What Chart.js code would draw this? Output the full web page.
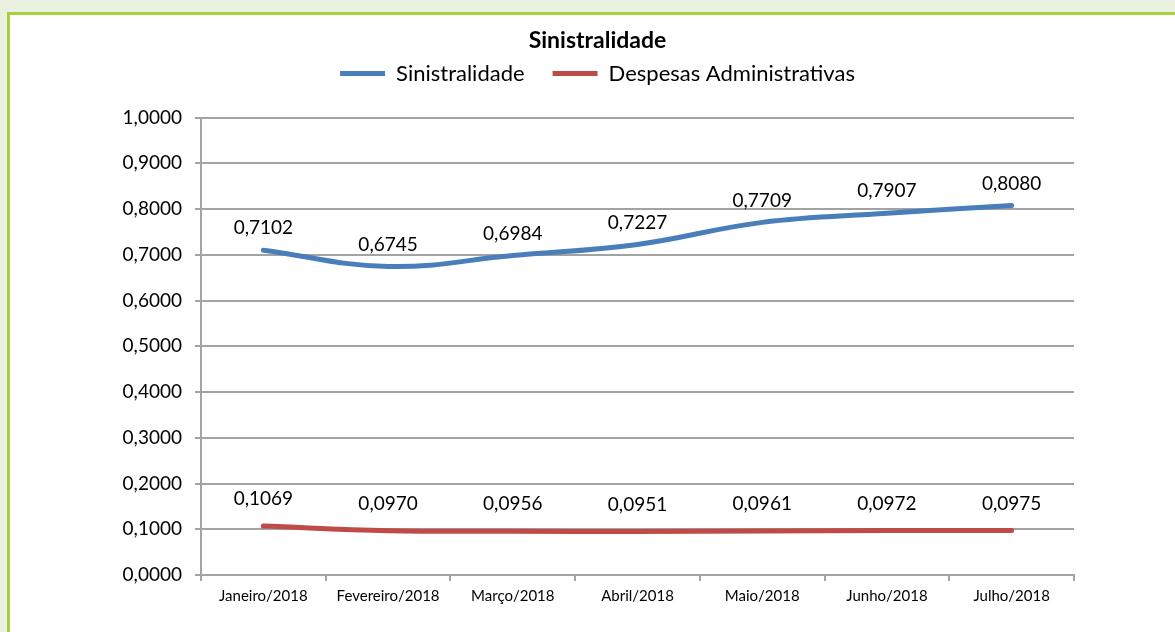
<!DOCTYPE html>
<html lang="pt">
<head>
<meta charset="utf-8">
<title>Sinistralidade</title>
<script src="https://cdn.jsdelivr.net/npm/chart.js@4"></script>
<style>
    html, body { margin: 0; padding: 0; }
    body { width: 1175px; height: 632px; overflow: hidden; background: #ebf1e1; position: relative; }
    .moldura {
        position: absolute; left: 7px; top: 12px; width: 1200px; height: 660px;
        border-left: 3px solid #a9cf3e; border-top: 3px solid #a9cf3e; background: #fff;
    }
    .grafico { position: absolute; left: 0; top: 0; width: 1175px; height: 632px; }
</style>
</head>
<body>
<div class="moldura"></div>
<div class="grafico"><canvas id="sinistralidadeChart" width="1175" height="632"></canvas></div>
<script>
        // Dados
        const meses = ['Janeiro/2018', 'Fevereiro/2018', 'Março/2018', 'Abril/2018', 'Maio/2018', 'Junho/2018', 'Julho/2018'];
        const sinistralidade = [0.7102, 0.6745, 0.6984, 0.7227, 0.7709, 0.7907, 0.8080];
        const despesasAdm = [0.1069, 0.0970, 0.0956, 0.0951, 0.0961, 0.0972, 0.0975];

        // Cores no estilo Excel
        const cores = {
            azul: '#4a7ebb',
            vermelho: '#be4b48',
            grade: '#a3a3a3'
        };

        // 0.7102 -> "0,7102"
        const formatar = v => Number(v).toFixed(4).replace('.', ',');

        Chart.defaults.font.family = 'Lato';
        Chart.defaults.color = '#000';

        // Rótulos de valor acima de cada ponto
        const rotulosPlugin = {
            id: 'rotulos',
            afterDatasetsDraw(chart) {
                const ctx = chart.ctx;
                ctx.save();
                ctx.font = '19px Lato';
                ctx.fillStyle = '#000';
                ctx.textAlign = 'center';
                ctx.textBaseline = 'middle';
                chart.data.datasets.forEach((ds, i) => {
                    chart.getDatasetMeta(i).data.forEach((pt, j) => {
                        ctx.fillText(formatar(ds.data[j]), pt.x, pt.y - ds.deslocRotulo);
                    });
                });
                ctx.restore();
            }
        };

        const ctx = document.getElementById('sinistralidadeChart');
        new Chart(ctx, {
            type: 'line',
            data: {
                labels: meses,
                datasets: [
                    {
                        label: 'Sinistralidade',
                        data: sinistralidade,
                        borderColor: cores.azul,
                        backgroundColor: cores.azul,
                        borderWidth: 5,
                        borderCapStyle: 'round',
                        pointRadius: 0,
                        tension: 0.4,
                        deslocRotulo: 22
                    },
                    {
                        label: 'Despesas Administrativas',
                        data: despesasAdm,
                        borderColor: cores.vermelho,
                        backgroundColor: cores.vermelho,
                        borderWidth: 5,
                        borderCapStyle: 'round',
                        pointRadius: 0,
                        tension: 0.4,
                        deslocRotulo: 27
                    }
                ]
            },
            options: {
                responsive: false,
                animation: false,
                layout: {
                    padding: { left: 20, right: 0, top: 0, bottom: 0 }
                },
                plugins: {
                    title: {
                        display: true,
                        text: 'Sinistralidade',
                        color: '#000',
                        font: { size: 23, weight: 'bold' },
                        // fundo negativo para compensar o padding maior da legenda
                        padding: { top: 27, bottom: -20 }
                    },
                    // espaço em branco entre a legenda e o gráfico
                    subtitle: {
                        display: true,
                        text: ' ',
                        weight: 500,
                        font: { size: 10 },
                        padding: { top: 0, bottom: 11 }
                    },
                    legend: {
                        position: 'top',
                        labels: {
                            usePointStyle: true,
                            pointStyle: 'line',
                            pointStyleWidth: 45,
                            padding: 28,
                            color: '#000',
                            font: { size: 22 }
                        }
                    },
                    tooltip: { enabled: false }
                },
                scales: {
                    x: {
                        offset: true,
                        afterFit: s => { s.height = 57; },
                        border: { display: true, color: cores.grade, width: 2 },
                        grid: {
                            offset: true,
                            drawOnChartArea: false,
                            drawTicks: true,
                            tickLength: 6,
                            color: cores.grade,
                            lineWidth: 2
                        },
                        ticks: {
                            color: '#000',
                            font: { size: 15 },
                            padding: 6,
                            maxRotation: 0,
                            autoSkip: false
                        }
                    },
                    y: {
                        min: 0,
                        max: 1,
                        afterFit: s => { s.width = 181; },
                        border: { display: true, color: cores.grade, width: 2 },
                        grid: {
                            color: cores.grade,
                            lineWidth: 2,
                            drawTicks: true,
                            tickLength: 6
                        },
                        ticks: {
                            stepSize: 0.1,
                            color: '#000',
                            font: { size: 19 },
                            padding: 13,
                            callback: v => formatar(v)
                        }
                    },
                    // eixo vazio à direita, só reserva a margem
                    margemDireita: {
                        position: 'right',
                        min: 0,
                        max: 1,
                        afterFit: s => { s.width = 101; },
                        border: { display: false },
                        grid: { display: false },
                        ticks: { display: false }
                    }
                }
            },
            plugins: [rotulosPlugin]
        });
</script>
</body>
</html>
